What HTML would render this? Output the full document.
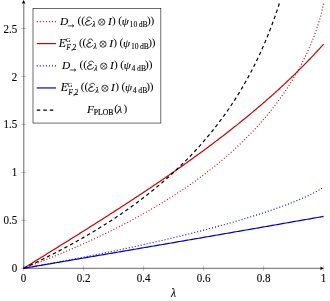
<!DOCTYPE html>
<html><head><meta charset="utf-8"><title>plot</title>
<style>html,body{margin:0;padding:0;background:#fff}svg{display:block;will-change:transform}</style>
</head><body>
<svg width="330" height="301" viewBox="0 0 330 301">
<rect width="330" height="301" fill="#fff"/>
<defs><clipPath id="c"><rect x="22.60" y="1.60" width="302.00" height="267.70"/></clipPath></defs>
<path d="M23.60 265.70 V270.90 M21.00 268.30 H26.20 M83.60 265.70 V270.90 M21.00 220.33 H26.20 M143.60 265.70 V270.90 M21.00 172.35 H26.20 M203.60 265.70 V270.90 M21.00 124.38 H26.20 M263.60 265.70 V270.90 M21.00 76.40 H26.20 M323.60 265.70 V270.90 M21.00 28.43 H26.20" stroke="#707070" stroke-width="0.4" fill="none"/>
<path d="M23.80 268.50 V1.5 M23.50 268.30 H322.60" stroke="#000" stroke-width="0.6" fill="none"/>
<path d="M23.60 0.1 L21.70 3.9 L23.60 3.0 L25.50 3.9 Z" fill="#000"/>
<path d="M323.80 268.30 L320.00 266.40 L320.90 268.30 L320.00 270.20 Z" fill="#000"/>
<g clip-path="url(#c)" fill="none" stroke-width="1.20">
<path d="M23.60 268.30 L24.85 267.83 L26.10 267.36 L27.35 266.89 L28.60 266.41 L29.85 265.94 L31.10 265.46 L32.35 264.98 L33.60 264.50 L34.85 264.01 L36.10 263.53 L37.35 263.04 L38.60 262.56 L39.85 262.07 L41.10 261.57 L42.35 261.08 L43.60 260.59 L44.85 260.09 L46.10 259.59 L47.35 259.09 L48.60 258.59 L49.85 258.08 L51.10 257.58 L52.35 257.07 L53.60 256.56 L54.85 256.05 L56.10 255.53 L57.35 255.02 L58.60 254.50 L59.85 253.98 L61.10 253.46 L62.35 252.93 L63.60 252.41 L64.85 251.88 L66.10 251.35 L67.35 250.82 L68.60 250.29 L69.85 249.75 L71.10 249.21 L72.35 248.67 L73.60 248.13 L74.85 247.58 L76.10 247.04 L77.35 246.49 L78.60 245.94 L79.85 245.38 L81.10 244.83 L82.35 244.27 L83.60 243.71 L84.85 243.15 L86.10 242.58 L87.35 242.01 L88.60 241.44 L89.85 240.87 L91.10 240.30 L92.35 239.72 L93.60 239.14 L94.85 238.56 L96.10 237.98 L97.35 237.39 L98.60 236.80 L99.85 236.21 L101.10 235.61 L102.35 235.01 L103.60 234.41 L104.85 233.81 L106.10 233.21 L107.35 232.60 L108.60 231.99 L109.85 231.37 L111.10 230.76 L112.35 230.14 L113.60 229.52 L114.85 228.89 L116.10 228.26 L117.35 227.63 L118.60 227.00 L119.85 226.36 L121.10 225.72 L122.35 225.08 L123.60 224.43 L124.85 223.78 L126.10 223.13 L127.35 222.48 L128.60 221.82 L129.85 221.16 L131.10 220.49 L132.35 219.82 L133.60 219.15 L134.85 218.48 L136.10 217.80 L137.35 217.12 L138.60 216.43 L139.85 215.74 L141.10 215.05 L142.35 214.35 L143.60 213.66 L144.85 212.95 L146.10 212.24 L147.35 211.53 L148.60 210.82 L149.85 210.10 L151.10 209.38 L152.35 208.65 L153.60 207.92 L154.85 207.19 L156.10 206.45 L157.35 205.71 L158.60 204.96 L159.85 204.21 L161.10 203.46 L162.35 202.70 L163.60 201.94 L164.85 201.17 L166.10 200.40 L167.35 199.62 L168.60 198.84 L169.85 198.05 L171.10 197.26 L172.35 196.47 L173.60 195.67 L174.85 194.86 L176.10 194.05 L177.35 193.24 L178.60 192.42 L179.85 191.59 L181.10 190.76 L182.35 189.93 L183.60 189.09 L184.85 188.24 L186.10 187.39 L187.35 186.53 L188.60 185.67 L189.85 184.80 L191.10 183.93 L192.35 183.05 L193.60 182.17 L194.85 181.27 L196.10 180.38 L197.35 179.47 L198.60 178.56 L199.85 177.65 L201.10 176.72 L202.35 175.79 L203.60 174.86 L204.85 173.92 L206.10 172.97 L207.35 172.01 L208.60 171.05 L209.85 170.08 L211.10 169.10 L212.35 168.11 L213.60 167.12 L214.85 166.12 L216.10 165.11 L217.35 164.10 L218.60 163.07 L219.85 162.04 L221.10 161.00 L222.35 159.95 L223.60 158.90 L224.85 157.83 L226.10 156.76 L227.35 155.67 L228.60 154.58 L229.85 153.48 L231.10 152.36 L232.35 151.24 L233.60 150.11 L234.85 148.97 L236.10 147.82 L237.35 146.66 L238.60 145.48 L239.85 144.30 L241.10 143.10 L242.35 141.90 L243.60 140.68 L244.85 139.45 L246.10 138.21 L247.35 136.95 L248.60 135.69 L249.85 134.41 L251.10 133.11 L252.35 131.81 L253.60 130.48 L254.85 129.15 L256.10 127.80 L257.35 126.44 L258.60 125.06 L259.85 123.66 L261.10 122.25 L262.35 120.82 L263.60 119.38 L264.85 117.92 L266.10 116.44 L267.35 114.94 L268.60 113.42 L269.85 111.89 L271.10 110.33 L272.35 108.76 L273.60 107.16 L274.85 105.54 L276.10 103.90 L277.35 102.23 L278.60 100.54 L279.85 98.83 L281.10 97.09 L282.35 95.32 L283.60 93.53 L284.85 91.71 L286.10 89.85 L287.35 87.97 L288.60 86.05 L289.85 84.10 L291.10 82.12 L292.35 80.10 L293.60 78.03 L294.85 75.93 L296.10 73.79 L297.35 71.60 L298.60 69.37 L299.85 67.08 L301.10 64.74 L302.35 62.35 L303.60 59.89 L304.85 57.37 L306.10 54.78 L307.35 52.12 L308.60 49.37 L309.85 46.54 L311.10 43.61 L312.35 40.57 L313.60 37.41 L314.85 34.12 L316.10 30.66 L317.35 27.02 L318.60 23.15 L319.85 19.00 L321.10 14.46 L322.35 9.32 L323.60 2.57" stroke="#cc0000" stroke-dasharray="0.95 2.11"/>
<path d="M23.60 268.30 L24.85 267.53 L26.10 266.76 L27.35 265.98 L28.60 265.21 L29.85 264.44 L31.10 263.67 L32.35 262.89 L33.60 262.12 L34.85 261.35 L36.10 260.58 L37.35 259.80 L38.60 259.03 L39.85 258.26 L41.10 257.48 L42.35 256.71 L43.60 255.94 L44.85 255.16 L46.10 254.39 L47.35 253.61 L48.60 252.84 L49.85 252.06 L51.10 251.29 L52.35 250.51 L53.60 249.74 L54.85 248.96 L56.10 248.19 L57.35 247.41 L58.60 246.63 L59.85 245.86 L61.10 245.08 L62.35 244.30 L63.60 243.52 L64.85 242.74 L66.10 241.97 L67.35 241.19 L68.60 240.41 L69.85 239.63 L71.10 238.85 L72.35 238.06 L73.60 237.28 L74.85 236.50 L76.10 235.72 L77.35 234.93 L78.60 234.15 L79.85 233.37 L81.10 232.58 L82.35 231.80 L83.60 231.01 L84.85 230.22 L86.10 229.44 L87.35 228.65 L88.60 227.86 L89.85 227.07 L91.10 226.28 L92.35 225.49 L93.60 224.70 L94.85 223.91 L96.10 223.11 L97.35 222.32 L98.60 221.53 L99.85 220.73 L101.10 219.94 L102.35 219.14 L103.60 218.34 L104.85 217.54 L106.10 216.75 L107.35 215.95 L108.60 215.15 L109.85 214.34 L111.10 213.54 L112.35 212.74 L113.60 211.93 L114.85 211.13 L116.10 210.32 L117.35 209.52 L118.60 208.71 L119.85 207.90 L121.10 207.09 L122.35 206.28 L123.60 205.47 L124.85 204.65 L126.10 203.84 L127.35 203.02 L128.60 202.21 L129.85 201.39 L131.10 200.57 L132.35 199.75 L133.60 198.93 L134.85 198.11 L136.10 197.28 L137.35 196.46 L138.60 195.63 L139.85 194.80 L141.10 193.98 L142.35 193.15 L143.60 192.32 L144.85 191.48 L146.10 190.65 L147.35 189.81 L148.60 188.98 L149.85 188.14 L151.10 187.30 L152.35 186.46 L153.60 185.62 L154.85 184.77 L156.10 183.93 L157.35 183.08 L158.60 182.23 L159.85 181.38 L161.10 180.53 L162.35 179.68 L163.60 178.82 L164.85 177.96 L166.10 177.11 L167.35 176.25 L168.60 175.38 L169.85 174.52 L171.10 173.66 L172.35 172.79 L173.60 171.92 L174.85 171.05 L176.10 170.18 L177.35 169.30 L178.60 168.43 L179.85 167.55 L181.10 166.67 L182.35 165.79 L183.60 164.90 L184.85 164.02 L186.10 163.13 L187.35 162.24 L188.60 161.35 L189.85 160.45 L191.10 159.56 L192.35 158.66 L193.60 157.76 L194.85 156.85 L196.10 155.95 L197.35 155.04 L198.60 154.13 L199.85 153.22 L201.10 152.30 L202.35 151.39 L203.60 150.47 L204.85 149.54 L206.10 148.62 L207.35 147.69 L208.60 146.76 L209.85 145.83 L211.10 144.90 L212.35 143.96 L213.60 143.02 L214.85 142.08 L216.10 141.13 L217.35 140.18 L218.60 139.23 L219.85 138.28 L221.10 137.32 L222.35 136.36 L223.60 135.40 L224.85 134.43 L226.10 133.46 L227.35 132.49 L228.60 131.52 L229.85 130.54 L231.10 129.56 L232.35 128.57 L233.60 127.58 L234.85 126.59 L236.10 125.60 L237.35 124.60 L238.60 123.60 L239.85 122.59 L241.10 121.59 L242.35 120.57 L243.60 119.56 L244.85 118.54 L246.10 117.52 L247.35 116.49 L248.60 115.46 L249.85 114.42 L251.10 113.39 L252.35 112.34 L253.60 111.30 L254.85 110.25 L256.10 109.19 L257.35 108.13 L258.60 107.07 L259.85 106.00 L261.10 104.93 L262.35 103.86 L263.60 102.78 L264.85 101.69 L266.10 100.60 L267.35 99.51 L268.60 98.41 L269.85 97.30 L271.10 96.20 L272.35 95.08 L273.60 93.96 L274.85 92.84 L276.10 91.71 L277.35 90.58 L278.60 89.44 L279.85 88.29 L281.10 87.14 L282.35 85.99 L283.60 84.83 L284.85 83.66 L286.10 82.49 L287.35 81.31 L288.60 80.12 L289.85 78.93 L291.10 77.74 L292.35 76.53 L293.60 75.32 L294.85 74.11 L296.10 72.89 L297.35 71.66 L298.60 70.42 L299.85 69.18 L301.10 67.93 L302.35 66.68 L303.60 65.41 L304.85 64.14 L306.10 62.87 L307.35 61.58 L308.60 60.29 L309.85 58.99 L311.10 57.68 L312.35 56.36 L313.60 55.04 L314.85 53.71 L316.10 52.36 L317.35 51.01 L318.60 49.66 L319.85 48.29 L321.10 46.91 L322.35 45.53 L323.60 44.13" stroke="#cc0000"/>
<path d="M23.60 268.30 L24.85 268.08 L26.10 267.86 L27.35 267.63 L28.60 267.41 L29.85 267.19 L31.10 266.96 L32.35 266.74 L33.60 266.52 L34.85 266.29 L36.10 266.07 L37.35 265.84 L38.60 265.61 L39.85 265.39 L41.10 265.16 L42.35 264.93 L43.60 264.70 L44.85 264.47 L46.10 264.24 L47.35 264.01 L48.60 263.78 L49.85 263.55 L51.10 263.32 L52.35 263.09 L53.60 262.86 L54.85 262.63 L56.10 262.39 L57.35 262.16 L58.60 261.92 L59.85 261.69 L61.10 261.45 L62.35 261.22 L63.60 260.98 L64.85 260.74 L66.10 260.51 L67.35 260.27 L68.60 260.03 L69.85 259.79 L71.10 259.55 L72.35 259.31 L73.60 259.07 L74.85 258.83 L76.10 258.59 L77.35 258.35 L78.60 258.10 L79.85 257.86 L81.10 257.61 L82.35 257.37 L83.60 257.13 L84.85 256.88 L86.10 256.63 L87.35 256.39 L88.60 256.14 L89.85 255.89 L91.10 255.64 L92.35 255.39 L93.60 255.14 L94.85 254.89 L96.10 254.64 L97.35 254.39 L98.60 254.14 L99.85 253.88 L101.10 253.63 L102.35 253.38 L103.60 253.12 L104.85 252.87 L106.10 252.61 L107.35 252.35 L108.60 252.09 L109.85 251.84 L111.10 251.58 L112.35 251.32 L113.60 251.06 L114.85 250.80 L116.10 250.54 L117.35 250.27 L118.60 250.01 L119.85 249.75 L121.10 249.48 L122.35 249.22 L123.60 248.95 L124.85 248.69 L126.10 248.42 L127.35 248.15 L128.60 247.88 L129.85 247.61 L131.10 247.34 L132.35 247.07 L133.60 246.80 L134.85 246.53 L136.10 246.26 L137.35 245.98 L138.60 245.71 L139.85 245.43 L141.10 245.16 L142.35 244.88 L143.60 244.60 L144.85 244.32 L146.10 244.04 L147.35 243.76 L148.60 243.48 L149.85 243.20 L151.10 242.92 L152.35 242.63 L153.60 242.35 L154.85 242.07 L156.10 241.78 L157.35 241.49 L158.60 241.20 L159.85 240.92 L161.10 240.63 L162.35 240.34 L163.60 240.04 L164.85 239.75 L166.10 239.46 L167.35 239.17 L168.60 238.87 L169.85 238.57 L171.10 238.28 L172.35 237.98 L173.60 237.68 L174.85 237.38 L176.10 237.08 L177.35 236.78 L178.60 236.47 L179.85 236.17 L181.10 235.87 L182.35 235.56 L183.60 235.25 L184.85 234.95 L186.10 234.64 L187.35 234.33 L188.60 234.01 L189.85 233.70 L191.10 233.39 L192.35 233.07 L193.60 232.76 L194.85 232.44 L196.10 232.12 L197.35 231.80 L198.60 231.48 L199.85 231.16 L201.10 230.84 L202.35 230.51 L203.60 230.19 L204.85 229.86 L206.10 229.54 L207.35 229.21 L208.60 228.88 L209.85 228.54 L211.10 228.21 L212.35 227.88 L213.60 227.54 L214.85 227.20 L216.10 226.87 L217.35 226.53 L218.60 226.18 L219.85 225.84 L221.10 225.50 L222.35 225.15 L223.60 224.80 L224.85 224.45 L226.10 224.10 L227.35 223.75 L228.60 223.40 L229.85 223.04 L231.10 222.69 L232.35 222.33 L233.60 221.97 L234.85 221.61 L236.10 221.24 L237.35 220.88 L238.60 220.51 L239.85 220.14 L241.10 219.77 L242.35 219.40 L243.60 219.02 L244.85 218.65 L246.10 218.27 L247.35 217.89 L248.60 217.51 L249.85 217.12 L251.10 216.74 L252.35 216.35 L253.60 215.96 L254.85 215.56 L256.10 215.17 L257.35 214.77 L258.60 214.37 L259.85 213.97 L261.10 213.56 L262.35 213.16 L263.60 212.75 L264.85 212.33 L266.10 211.92 L267.35 211.50 L268.60 211.08 L269.85 210.65 L271.10 210.23 L272.35 209.80 L273.60 209.37 L274.85 208.93 L276.10 208.49 L277.35 208.05 L278.60 207.60 L279.85 207.15 L281.10 206.70 L282.35 206.24 L283.60 205.78 L284.85 205.32 L286.10 204.85 L287.35 204.38 L288.60 203.90 L289.85 203.42 L291.10 202.93 L292.35 202.44 L293.60 201.94 L294.85 201.44 L296.10 200.93 L297.35 200.42 L298.60 199.90 L299.85 199.37 L301.10 198.84 L302.35 198.30 L303.60 197.75 L304.85 197.20 L306.10 196.63 L307.35 196.06 L308.60 195.48 L309.85 194.88 L311.10 194.27 L312.35 193.66 L313.60 193.02 L314.85 192.37 L316.10 191.70 L317.35 191.01 L318.60 190.30 L319.85 189.55 L321.10 188.75 L322.35 187.89 L323.60 186.84" stroke="#0000cc" stroke-dasharray="0.95 2.11"/>
<path d="M23.60 268.30 L24.85 268.09 L26.10 267.87 L27.35 267.66 L28.60 267.44 L29.85 267.23 L31.10 267.02 L32.35 266.80 L33.60 266.59 L34.85 266.38 L36.10 266.16 L37.35 265.95 L38.60 265.73 L39.85 265.52 L41.10 265.31 L42.35 265.09 L43.60 264.88 L44.85 264.67 L46.10 264.45 L47.35 264.24 L48.60 264.02 L49.85 263.81 L51.10 263.60 L52.35 263.38 L53.60 263.17 L54.85 262.95 L56.10 262.74 L57.35 262.53 L58.60 262.31 L59.85 262.10 L61.10 261.89 L62.35 261.67 L63.60 261.46 L64.85 261.24 L66.10 261.03 L67.35 260.82 L68.60 260.60 L69.85 260.39 L71.10 260.17 L72.35 259.96 L73.60 259.75 L74.85 259.53 L76.10 259.32 L77.35 259.10 L78.60 258.89 L79.85 258.68 L81.10 258.46 L82.35 258.25 L83.60 258.03 L84.85 257.82 L86.10 257.60 L87.35 257.39 L88.60 257.18 L89.85 256.96 L91.10 256.75 L92.35 256.53 L93.60 256.32 L94.85 256.11 L96.10 255.89 L97.35 255.68 L98.60 255.46 L99.85 255.25 L101.10 255.03 L102.35 254.82 L103.60 254.61 L104.85 254.39 L106.10 254.18 L107.35 253.96 L108.60 253.75 L109.85 253.53 L111.10 253.32 L112.35 253.11 L113.60 252.89 L114.85 252.68 L116.10 252.46 L117.35 252.25 L118.60 252.03 L119.85 251.82 L121.10 251.60 L122.35 251.39 L123.60 251.17 L124.85 250.96 L126.10 250.75 L127.35 250.53 L128.60 250.32 L129.85 250.10 L131.10 249.89 L132.35 249.67 L133.60 249.46 L134.85 249.24 L136.10 249.03 L137.35 248.81 L138.60 248.60 L139.85 248.38 L141.10 248.17 L142.35 247.95 L143.60 247.74 L144.85 247.52 L146.10 247.31 L147.35 247.09 L148.60 246.88 L149.85 246.66 L151.10 246.45 L152.35 246.23 L153.60 246.02 L154.85 245.80 L156.10 245.59 L157.35 245.37 L158.60 245.16 L159.85 244.94 L161.10 244.73 L162.35 244.51 L163.60 244.30 L164.85 244.08 L166.10 243.86 L167.35 243.65 L168.60 243.43 L169.85 243.22 L171.10 243.00 L172.35 242.79 L173.60 242.57 L174.85 242.36 L176.10 242.14 L177.35 241.92 L178.60 241.71 L179.85 241.49 L181.10 241.28 L182.35 241.06 L183.60 240.84 L184.85 240.63 L186.10 240.41 L187.35 240.20 L188.60 239.98 L189.85 239.76 L191.10 239.55 L192.35 239.33 L193.60 239.12 L194.85 238.90 L196.10 238.68 L197.35 238.47 L198.60 238.25 L199.85 238.04 L201.10 237.82 L202.35 237.60 L203.60 237.39 L204.85 237.17 L206.10 236.95 L207.35 236.74 L208.60 236.52 L209.85 236.30 L211.10 236.09 L212.35 235.87 L213.60 235.65 L214.85 235.44 L216.10 235.22 L217.35 235.00 L218.60 234.79 L219.85 234.57 L221.10 234.35 L222.35 234.13 L223.60 233.92 L224.85 233.70 L226.10 233.48 L227.35 233.27 L228.60 233.05 L229.85 232.83 L231.10 232.61 L232.35 232.40 L233.60 232.18 L234.85 231.96 L236.10 231.74 L237.35 231.53 L238.60 231.31 L239.85 231.09 L241.10 230.87 L242.35 230.66 L243.60 230.44 L244.85 230.22 L246.10 230.00 L247.35 229.78 L248.60 229.57 L249.85 229.35 L251.10 229.13 L252.35 228.91 L253.60 228.69 L254.85 228.48 L256.10 228.26 L257.35 228.04 L258.60 227.82 L259.85 227.60 L261.10 227.38 L262.35 227.17 L263.60 226.95 L264.85 226.73 L266.10 226.51 L267.35 226.29 L268.60 226.07 L269.85 225.85 L271.10 225.63 L272.35 225.42 L273.60 225.20 L274.85 224.98 L276.10 224.76 L277.35 224.54 L278.60 224.32 L279.85 224.10 L281.10 223.88 L282.35 223.66 L283.60 223.44 L284.85 223.22 L286.10 223.00 L287.35 222.78 L288.60 222.56 L289.85 222.34 L291.10 222.12 L292.35 221.90 L293.60 221.68 L294.85 221.46 L296.10 221.24 L297.35 221.02 L298.60 220.80 L299.85 220.58 L301.10 220.36 L302.35 220.14 L303.60 219.92 L304.85 219.70 L306.10 219.48 L307.35 219.26 L308.60 219.04 L309.85 218.82 L311.10 218.60 L312.35 218.38 L313.60 218.16 L314.85 217.94 L316.10 217.72 L317.35 217.50 L318.60 217.27 L319.85 217.05 L321.10 216.83 L322.35 216.61 L323.60 216.39" stroke="#0000cc"/>
<path d="M23.60 268.30 L24.73 267.78 L25.85 267.26 L26.98 266.73 L28.10 266.21 L29.23 265.68 L30.35 265.15 L31.48 264.62 L32.60 264.08 L33.73 263.55 L34.85 263.01 L35.98 262.47 L37.10 261.93 L38.23 261.38 L39.35 260.83 L40.48 260.29 L41.60 259.73 L42.73 259.18 L43.85 258.63 L44.98 258.07 L46.10 257.51 L47.23 256.95 L48.35 256.38 L49.47 255.81 L50.60 255.24 L51.73 254.67 L52.85 254.10 L53.98 253.52 L55.10 252.94 L56.23 252.36 L57.35 251.78 L58.48 251.19 L59.60 250.60 L60.73 250.01 L61.85 249.42 L62.98 248.82 L64.10 248.22 L65.23 247.62 L66.35 247.02 L67.48 246.41 L68.60 245.80 L69.72 245.19 L70.85 244.58 L71.97 243.96 L73.10 243.34 L74.22 242.72 L75.35 242.09 L76.48 241.46 L77.60 240.83 L78.72 240.19 L79.85 239.56 L80.97 238.92 L82.10 238.27 L83.22 237.63 L84.35 236.98 L85.47 236.33 L86.60 235.67 L87.72 235.01 L88.85 234.35 L89.97 233.68 L91.10 233.02 L92.22 232.34 L93.35 231.67 L94.47 230.99 L95.60 230.31 L96.72 229.63 L97.85 228.94 L98.98 228.25 L100.10 227.55 L101.22 226.85 L102.35 226.15 L103.47 225.44 L104.60 224.74 L105.72 224.02 L106.85 223.31 L107.97 222.59 L109.10 221.86 L110.22 221.13 L111.35 220.40 L112.47 219.67 L113.60 218.93 L114.72 218.18 L115.85 217.44 L116.98 216.68 L118.10 215.93 L119.22 215.17 L120.35 214.40 L121.47 213.64 L122.60 212.86 L123.73 212.09 L124.85 211.30 L125.97 210.52 L127.10 209.73 L128.22 208.93 L129.35 208.13 L130.47 207.33 L131.60 206.52 L132.72 205.71 L133.85 204.89 L134.98 204.07 L136.10 203.24 L137.23 202.41 L138.35 201.57 L139.48 200.72 L140.60 199.88 L141.72 199.02 L142.85 198.16 L143.97 197.30 L145.10 196.43 L146.23 195.55 L147.35 194.67 L148.47 193.79 L149.60 192.90 L150.72 192.00 L151.85 191.09 L152.97 190.18 L154.10 189.27 L155.22 188.35 L156.35 187.42 L157.47 186.48 L158.60 185.54 L159.72 184.60 L160.85 183.64 L161.97 182.68 L163.10 181.72 L164.22 180.74 L165.35 179.76 L166.47 178.77 L167.60 177.78 L168.72 176.78 L169.85 175.77 L170.97 174.75 L172.10 173.73 L173.22 172.70 L174.35 171.66 L175.47 170.61 L176.60 169.55 L177.72 168.49 L178.85 167.42 L179.97 166.34 L181.10 165.25 L182.23 164.15 L183.35 163.05 L184.48 161.93 L185.60 160.81 L186.72 159.67 L187.85 158.53 L188.97 157.38 L190.10 156.22 L191.22 155.05 L192.35 153.87 L193.47 152.67 L194.60 151.47 L195.73 150.26 L196.85 149.04 L197.97 147.80 L199.10 146.56 L200.22 145.30 L201.35 144.03 L202.47 142.75 L203.60 141.46 L204.72 140.16 L205.85 138.84 L206.98 137.51 L208.10 136.17 L209.22 134.82 L210.35 133.45 L211.48 132.06 L212.60 130.67 L213.72 129.26 L214.85 127.83 L215.97 126.39 L217.10 124.94 L218.23 123.47 L219.35 121.98 L220.47 120.48 L221.60 118.96 L222.73 117.43 L223.85 115.88 L224.97 114.31 L226.10 112.72 L227.23 111.11 L228.35 109.49 L229.47 107.84 L230.60 106.18 L231.72 104.49 L232.85 102.79 L233.97 101.06 L235.10 99.31 L236.22 97.54 L237.35 95.75 L238.48 93.93 L239.60 92.09 L240.73 90.22 L241.85 88.33 L242.97 86.41 L244.10 84.47 L245.22 82.49 L246.35 80.49 L247.47 78.46 L248.60 76.40 L249.72 74.31 L250.85 72.18 L251.98 70.03 L253.10 67.83 L254.22 65.61 L255.35 63.34 L256.48 61.04 L257.60 58.70 L258.72 56.32 L259.85 53.90 L260.98 51.44 L262.10 48.93 L263.23 46.37 L264.35 43.77 L265.48 41.12 L266.60 38.41 L267.73 35.65 L268.85 32.84 L269.97 29.96 L271.10 27.03 L272.23 24.03 L273.35 20.96 L274.48 17.83 L275.60 14.62 L276.73 11.34 L277.85 7.98 L278.98 4.53 L280.10 1.00 L281.23 -2.63" stroke="#000" stroke-dasharray="3.5 3.0"/>
</g>
<g font-family="'Liberation Serif', serif" font-size="11.6" fill="#000" stroke="#000" stroke-width="0.1">
<text transform="translate(23.60 282) scale(0.95 1)" text-anchor="middle">0</text>
<text transform="translate(83.60 282) scale(0.95 1)" text-anchor="middle">0.2</text>
<text transform="translate(143.60 282) scale(0.95 1)" text-anchor="middle">0.4</text>
<text transform="translate(203.60 282) scale(0.95 1)" text-anchor="middle">0.6</text>
<text transform="translate(263.60 282) scale(0.95 1)" text-anchor="middle">0.8</text>
<text transform="translate(323.60 282) scale(0.95 1)" text-anchor="middle">1</text>
<text transform="translate(17.2 272.40) scale(0.95 1)" text-anchor="end">0</text>
<text transform="translate(17.2 224.43) scale(0.95 1)" text-anchor="end">0.5</text>
<text transform="translate(17.2 176.45) scale(0.95 1)" text-anchor="end">1</text>
<text transform="translate(17.2 128.47) scale(0.95 1)" text-anchor="end">1.5</text>
<text transform="translate(17.2 80.50) scale(0.95 1)" text-anchor="end">2</text>
<text transform="translate(17.2 32.53) scale(0.95 1)" text-anchor="end">2.5</text>
<text x="173.60" y="297" text-anchor="middle" font-style="italic">λ</text>
</g>
<rect x="33.00" y="8.50" width="127.85" height="114.55" fill="#fff" stroke="#000" stroke-width="0.58"/>
<path d="M36.75 21.65 H56" stroke="#cc0000" stroke-width="1.20" fill="none" stroke-dasharray="0.95 2.11"/>
<path d="M36.75 43.60 H56" stroke="#cc0000" stroke-width="1.20" fill="none"/>
<path d="M36.75 65.90 H56" stroke="#0000cc" stroke-width="1.20" fill="none" stroke-dasharray="0.95 2.11"/>
<path d="M36.75 87.95 H56" stroke="#0000cc" stroke-width="1.20" fill="none"/>
<path d="M36.75 110.05 H56" stroke="#000" stroke-width="1.20" fill="none" stroke-dasharray="3.5 3.0"/>
<g font-family="'Liberation Serif', serif" fill="#000" stroke="#000" stroke-width="0.12">
<text x="60.10" y="25.10" font-size="11.40" font-style="italic">D</text>
<path d="M67.80 25.90 H73.70 M72.10 24.60 L73.70 25.90 L72.10 27.20" fill="none" stroke="#000" stroke-width="0.7"/>
<text x="77.60" y="24.10" font-size="11.20" letter-spacing="-0.1" stroke-width="0.05">((</text>
<path d="M91.48 18.55 C91.38 17.41 90.24 17.03 89.29 17.07 C87.87 17.12 86.82 17.79 86.82 18.73 C86.82 19.88 87.87 20.54 89.67 20.68 C87.49 20.78 85.45 21.68 85.45 23.30 C85.45 24.62 86.25 25.24 87.58 25.24 C89.20 25.24 90.81 24.62 91.67 23.30" fill="none" stroke="#000" stroke-width="0.75" stroke-linecap="round" stroke-linejoin="round"/><path d="M88.25 20.87 C86.73 21.30 85.59 22.06 85.59 23.30 C85.59 24.34 86.16 25.01 87.20 25.15" fill="none" stroke="#000" stroke-width="0.55" stroke-linecap="round"/>
<text x="92.30" y="27.20" font-size="7.70" font-style="italic" stroke-width="0.1">λ</text>
<circle cx="101.70" cy="22.10" r="3.15" fill="none" stroke="#000" stroke-width="0.7"/><path d="M99.47 19.87 L103.93 24.33 M99.47 24.33 L103.93 19.87" stroke="#000" stroke-width="0.55" fill="none"/>
<text x="107.90" y="25.10" font-size="11.40" font-style="italic">I</text>
<text x="112.00" y="24.10" font-size="11.20" letter-spacing="-0.1" stroke-width="0.05">)</text>
<text x="118.20" y="24.10" font-size="11.20" letter-spacing="-0.1" stroke-width="0.05">(</text>
<text x="121.70" y="25.10" font-size="11.40" font-style="italic">ψ</text>
<text x="129.60" y="26.90" font-size="7.70" stroke-width="0.1">10</text>
<text x="138.70" y="26.90" font-size="7.70" stroke-width="0.1">dB</text>
<text x="146.90" y="24.10" font-size="11.20" letter-spacing="-0.1" stroke-width="0.05">))</text>
<text x="58.80" y="47.10" font-size="11.80" font-style="italic">E</text>
<text x="65.70" y="42.40" font-size="6.70" stroke-width="0.1">G</text>
<text x="66.30" y="50.40" font-size="7.70" font-style="italic" stroke-width="0.1">F</text>
<text x="71.30" y="50.40" font-size="7.70" stroke-width="0.1">,</text>
<text x="72.60" y="50.40" font-size="7.70" stroke-width="0.1">2</text>
<text x="78.90" y="46.10" font-size="11.20" letter-spacing="-0.1" stroke-width="0.05">((</text>
<path d="M92.78 40.55 C92.69 39.41 91.55 39.03 90.59 39.07 C89.17 39.12 88.12 39.79 88.12 40.73 C88.12 41.88 89.17 42.54 90.98 42.68 C88.79 42.78 86.75 43.68 86.75 45.30 C86.75 46.62 87.56 47.24 88.89 47.24 C90.50 47.24 92.12 46.62 92.97 45.30" fill="none" stroke="#000" stroke-width="0.75" stroke-linecap="round" stroke-linejoin="round"/><path d="M89.55 42.87 C88.03 43.30 86.89 44.06 86.89 45.30 C86.89 46.34 87.46 47.01 88.51 47.15" fill="none" stroke="#000" stroke-width="0.55" stroke-linecap="round"/>
<text x="93.60" y="49.20" font-size="7.70" font-style="italic" stroke-width="0.1">λ</text>
<circle cx="103.00" cy="44.10" r="3.15" fill="none" stroke="#000" stroke-width="0.7"/><path d="M100.77 41.87 L105.23 46.33 M100.77 46.33 L105.23 41.87" stroke="#000" stroke-width="0.55" fill="none"/>
<text x="109.20" y="47.10" font-size="11.40" font-style="italic">I</text>
<text x="113.30" y="46.10" font-size="11.20" letter-spacing="-0.1" stroke-width="0.05">)</text>
<text x="119.50" y="46.10" font-size="11.20" letter-spacing="-0.1" stroke-width="0.05">(</text>
<text x="123.00" y="47.10" font-size="11.40" font-style="italic">ψ</text>
<text x="130.90" y="48.90" font-size="7.70" stroke-width="0.1">10</text>
<text x="140.00" y="48.90" font-size="7.70" stroke-width="0.1">dB</text>
<text x="148.20" y="46.10" font-size="11.20" letter-spacing="-0.1" stroke-width="0.05">))</text>
<text x="62.10" y="69.20" font-size="11.40" font-style="italic">D</text>
<path d="M69.80 70.00 H75.70 M74.10 68.70 L75.70 70.00 L74.10 71.30" fill="none" stroke="#000" stroke-width="0.7"/>
<text x="79.60" y="68.20" font-size="11.20" letter-spacing="-0.1" stroke-width="0.05">((</text>
<path d="M93.48 62.65 C93.38 61.51 92.24 61.12 91.29 61.17 C89.87 61.22 88.82 61.89 88.82 62.84 C88.82 63.98 89.87 64.64 91.67 64.78 C89.49 64.88 87.45 65.78 87.45 67.39 C87.45 68.73 88.25 69.34 89.58 69.34 C91.20 69.34 92.81 68.73 93.67 67.39" fill="none" stroke="#000" stroke-width="0.75" stroke-linecap="round" stroke-linejoin="round"/><path d="M90.25 64.97 C88.73 65.40 87.59 66.16 87.59 67.39 C87.59 68.44 88.16 69.11 89.20 69.25" fill="none" stroke="#000" stroke-width="0.55" stroke-linecap="round"/>
<text x="94.30" y="71.30" font-size="7.70" font-style="italic" stroke-width="0.1">λ</text>
<circle cx="103.70" cy="66.20" r="3.15" fill="none" stroke="#000" stroke-width="0.7"/><path d="M101.47 63.97 L105.93 68.43 M101.47 68.43 L105.93 63.97" stroke="#000" stroke-width="0.55" fill="none"/>
<text x="109.90" y="69.20" font-size="11.40" font-style="italic">I</text>
<text x="114.00" y="68.20" font-size="11.20" letter-spacing="-0.1" stroke-width="0.05">)</text>
<text x="120.20" y="68.20" font-size="11.20" letter-spacing="-0.1" stroke-width="0.05">(</text>
<text x="123.70" y="69.20" font-size="11.40" font-style="italic">ψ</text>
<text x="131.60" y="71.00" font-size="7.70" stroke-width="0.1">4</text>
<text x="137.10" y="71.00" font-size="7.70" stroke-width="0.1">dB</text>
<text x="145.00" y="68.20" font-size="11.20" letter-spacing="-0.1" stroke-width="0.05">))</text>
<text x="60.70" y="91.30" font-size="11.80" font-style="italic">E</text>
<text x="67.60" y="86.60" font-size="6.70" stroke-width="0.1">G</text>
<text x="68.20" y="94.60" font-size="7.70" font-style="italic" stroke-width="0.1">F</text>
<text x="73.20" y="94.60" font-size="7.70" stroke-width="0.1">,</text>
<text x="74.50" y="94.60" font-size="7.70" stroke-width="0.1">2</text>
<text x="80.80" y="90.30" font-size="11.20" letter-spacing="-0.1" stroke-width="0.05">((</text>
<path d="M94.68 84.75 C94.59 83.61 93.45 83.22 92.50 83.27 C91.07 83.32 90.03 83.98 90.03 84.94 C90.03 86.08 91.07 86.74 92.88 86.88 C90.69 86.98 88.65 87.88 88.65 89.49 C88.65 90.83 89.46 91.44 90.79 91.44 C92.40 91.44 94.02 90.83 94.87 89.49" fill="none" stroke="#000" stroke-width="0.75" stroke-linecap="round" stroke-linejoin="round"/><path d="M91.45 87.07 C89.93 87.50 88.79 88.26 88.79 89.49 C88.79 90.54 89.36 91.20 90.41 91.35" fill="none" stroke="#000" stroke-width="0.55" stroke-linecap="round"/>
<text x="95.50" y="93.40" font-size="7.70" font-style="italic" stroke-width="0.1">λ</text>
<circle cx="104.90" cy="88.30" r="3.15" fill="none" stroke="#000" stroke-width="0.7"/><path d="M102.67 86.07 L107.13 90.53 M102.67 90.53 L107.13 86.07" stroke="#000" stroke-width="0.55" fill="none"/>
<text x="111.10" y="91.30" font-size="11.40" font-style="italic">I</text>
<text x="115.20" y="90.30" font-size="11.20" letter-spacing="-0.1" stroke-width="0.05">)</text>
<text x="121.40" y="90.30" font-size="11.20" letter-spacing="-0.1" stroke-width="0.05">(</text>
<text x="124.90" y="91.30" font-size="11.40" font-style="italic">ψ</text>
<text x="132.80" y="93.10" font-size="7.70" stroke-width="0.1">4</text>
<text x="138.30" y="93.10" font-size="7.70" stroke-width="0.1">dB</text>
<text x="146.20" y="90.30" font-size="11.20" letter-spacing="-0.1" stroke-width="0.05">))</text>
<text x="87.10" y="112.80" font-size="11.40" font-style="italic">F</text>
<text x="93.70" y="114.90" font-size="7.70" stroke-width="0.18">PLOB</text>
<text x="114.30" y="111.80" font-size="11.20" letter-spacing="-0.1" stroke-width="0.05">(</text>
<text x="117.20" y="112.80" font-size="11.40" font-style="italic">λ</text>
<text x="123.60" y="111.80" font-size="11.20" letter-spacing="-0.1" stroke-width="0.05">)</text>
</g>
</svg>
</body></html>
